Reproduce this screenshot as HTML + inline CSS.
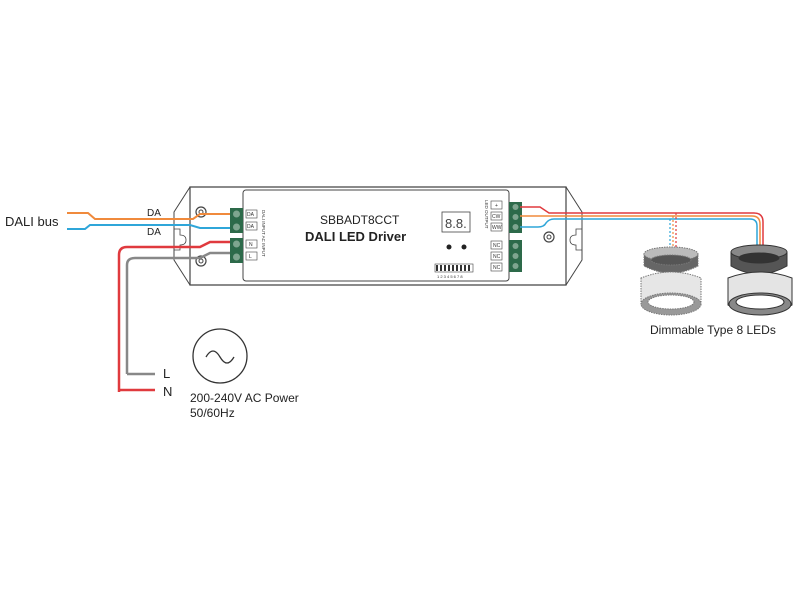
<!DOCTYPE html>
<html><head><meta charset="utf-8"><style>
html,body{margin:0;padding:0;background:#fff;}
svg{display:block;font-family:"Liberation Sans",Arial,sans-serif;}
</style></head><body>
<svg width="800" height="600" viewBox="0 0 800 600" xmlns="http://www.w3.org/2000/svg">
<rect width="800" height="600" fill="#fff"/>
<!-- driver housing -->
<path d="M190,187 L566,187 L566,285 L190,285 Z" fill="#fff" stroke="#444" stroke-width="1.2"/>
<path d="M190,187 L174,212 L174,260 L190,285" fill="none" stroke="#444" stroke-width="1"/>
<path d="M566,187 L582,212 L582,260 L566,285" fill="none" stroke="#444" stroke-width="1"/>
<path d="M174,229 h6 v6 q6,0 6,5 q0,5 -6,5 v5 h-6" fill="none" stroke="#444" stroke-width="0.8"/>
<path d="M582,229 h-6 v6 q-6,0 -6,5 q0,5 6,5 v5 h6" fill="none" stroke="#444" stroke-width="0.8"/>
<circle cx="201" cy="212" r="5" fill="#fff" stroke="#444" stroke-width="1.2"/><circle cx="201" cy="212" r="2" fill="none" stroke="#444"/>
<circle cx="201" cy="261" r="5" fill="#fff" stroke="#444" stroke-width="1.2"/><circle cx="201" cy="261" r="2" fill="none" stroke="#444"/>
<circle cx="549" cy="237" r="5" fill="#fff" stroke="#444" stroke-width="1.2"/><circle cx="549" cy="237" r="2" fill="none" stroke="#444"/>
<rect x="243" y="190" width="266" height="91" rx="3" fill="#fff" stroke="#444" stroke-width="1"/>
<!-- wires left -->
<path d="M67,213 H88 L95,219 H193 L200,214 H232" fill="none" stroke="#f08a3c" stroke-width="2"/>
<path d="M67,229 H85 L90,225 H190 L200,228 H232" fill="none" stroke="#2fa6d9" stroke-width="2"/>
<path d="M119,392 V255 Q119,247 127,247 H200 L210,242 H232" fill="none" stroke="#e03a3e" stroke-width="2.5"/>
<path d="M127,374 V265 Q127,258 135,258 H200 L210,253 H232" fill="none" stroke="#888" stroke-width="2.5"/>
<path d="M119,390 H155" stroke="#e03a3e" stroke-width="2.5"/>
<path d="M127,374 H155" stroke="#888" stroke-width="2.5"/>
<text x="5" y="226" font-size="13" fill="#222">DALI bus</text>
<text x="147" y="216" font-size="10" fill="#222">DA</text>
<text x="147" y="235" font-size="10" fill="#222">DA</text>
<text x="163" y="378" font-size="13" fill="#222">L</text>
<text x="163" y="396" font-size="13" fill="#222">N</text>
<circle cx="220" cy="356" r="27" fill="#fff" stroke="#333" stroke-width="1.3"/>
<path d="M206,357 q7,-12 14,0 t14,0" fill="none" stroke="#333" stroke-width="1.3"/>
<text x="190" y="402" font-size="12" fill="#222">200-240V AC Power</text>
<text x="190" y="417" font-size="12" fill="#222">50/60Hz</text>
<!-- left terminals -->
<rect x="230" y="208" width="13" height="25" fill="#2d6a4a"/>
<circle cx="236.5" cy="214" r="3.5" fill="#7fa58f"/><circle cx="236.5" cy="227" r="3.5" fill="#7fa58f"/>
<rect x="230" y="238" width="13" height="25" fill="#2d6a4a"/>
<circle cx="236.5" cy="244" r="3.5" fill="#7fa58f"/><circle cx="236.5" cy="257" r="3.5" fill="#7fa58f"/>
<g font-size="5" fill="#333"><rect x="246" y="210" width="11" height="8" fill="#fff" stroke="#444" stroke-width=".6"/><text x="247" y="216">DA</text>
<rect x="246" y="222" width="11" height="8" fill="#fff" stroke="#444" stroke-width=".6"/><text x="247" y="228">DA</text>
<rect x="246" y="240" width="11" height="8" fill="#fff" stroke="#444" stroke-width=".6"/><text x="249" y="246">N</text>
<rect x="246" y="252" width="11" height="8" fill="#fff" stroke="#444" stroke-width=".6"/><text x="249" y="258">L</text>
<text transform="translate(262,210) rotate(90)" font-size="4.5">DALI INPUT   AC INPUT</text></g>
<text x="320" y="224" font-size="12" fill="#222">SBBADT8CCT</text>
<text x="305" y="241" font-size="13" font-weight="bold" fill="#222">DALI LED Driver</text>
<!-- display -->
<rect x="442" y="212" width="28" height="20" fill="#fff" stroke="#444" stroke-width=".8"/>
<text x="445" y="228" font-size="13" fill="#444">8.8.</text>
<circle cx="449" cy="247" r="2.5" fill="#222"/><circle cx="464" cy="247" r="2.5" fill="#222"/>
<rect x="435" y="264" width="38" height="8" fill="#fff" stroke="#444" stroke-width=".6"/>
<path d="M437,265v6M441,265v6M445,265v6M449,265v6M453,265v6M457,265v6M461,265v6M465,265v6M469,265v6" stroke="#333" stroke-width="2"/>
<text x="437" y="278" font-size="4" fill="#333">1 2 3 4 5 6 7 8</text>
<!-- right terminals -->
<g font-size="5" fill="#333">
<rect x="491" y="201" width="11" height="8" fill="#fff" stroke="#444" stroke-width=".6"/><text x="495" y="207">+</text>
<rect x="491" y="212" width="11" height="8" fill="#fff" stroke="#444" stroke-width=".6"/><text x="492" y="218">CW</text>
<rect x="491" y="223" width="11" height="8" fill="#fff" stroke="#444" stroke-width=".6"/><text x="492" y="229">WW</text>
<rect x="491" y="241" width="11" height="8" fill="#fff" stroke="#444" stroke-width=".6"/><text x="493" y="247">NC</text>
<rect x="491" y="252" width="11" height="8" fill="#fff" stroke="#444" stroke-width=".6"/><text x="493" y="258">NC</text>
<rect x="491" y="263" width="11" height="8" fill="#fff" stroke="#444" stroke-width=".6"/><text x="493" y="269">NC</text>
<text transform="translate(485,200) rotate(90)" font-size="4.5">LED OUTPUT</text></g>
<rect x="509" y="202" width="13" height="31" fill="#2d6a4a"/>
<circle cx="515.5" cy="207" r="3" fill="#7fa58f"/><circle cx="515.5" cy="217" r="3" fill="#7fa58f"/><circle cx="515.5" cy="227" r="3" fill="#7fa58f"/>
<rect x="509" y="240" width="13" height="32" fill="#2d6a4a"/>
<circle cx="515.5" cy="246" r="3" fill="#7fa58f"/><circle cx="515.5" cy="256" r="3" fill="#7fa58f"/><circle cx="515.5" cy="266" r="3" fill="#7fa58f"/>
<!-- right wires -->
<path d="M520,207 H540 L549,213 H754 Q763,213 763,222 V248" fill="none" stroke="#e03a3e" stroke-width="1.5"/>
<path d="M520,216 H752 Q760,216 760,224 V248" fill="none" stroke="#f08a3c" stroke-width="1.5"/>
<path d="M520,227 H538 Q544,227 546,223 Q549,219 554,219 H750 Q757,219 757,226 V248" fill="none" stroke="#2fa6d9" stroke-width="1.5"/>
<path d="M676,213 V252" stroke="#e03a3e" stroke-width="1.2" stroke-dasharray="2,2"/>
<path d="M673,216 V252" stroke="#f08a3c" stroke-width="1.2" stroke-dasharray="2,2"/>
<path d="M670,219 V252" stroke="#2fa6d9" stroke-width="1.2" stroke-dasharray="2,2"/>
<!-- left lamp (ghosted) -->
<g stroke="#777" stroke-dasharray="1.5,1" stroke-width="1">
<path d="M644,254 V266 Q671,280 698,266 V254" fill="#666"/>
<ellipse cx="671" cy="254" rx="27" ry="7" fill="#bbb"/>
<ellipse cx="671" cy="260" rx="20" ry="5" fill="#555"/>
<path d="M641,278 V305 Q671,322 701,305 V278 Q671,266 641,278Z" fill="#e6e6e6"/>
<ellipse cx="671" cy="304" rx="30" ry="11" fill="#999"/>
<ellipse cx="671" cy="302" rx="23" ry="7" fill="#fff"/>
</g>
<!-- right lamp -->
<g stroke="#333" stroke-width="1">
<path d="M731,252 V266 Q759,282 787,266 V252" fill="#555"/>
<ellipse cx="759" cy="252" rx="28" ry="7" fill="#888"/>
<ellipse cx="759" cy="258" rx="20" ry="5" fill="#333"/>
<path d="M728,278 V305 Q760,322 792,305 V278 Q760,266 728,278Z" fill="#e4e4e4"/>
<ellipse cx="760" cy="304" rx="31" ry="11" fill="#888"/>
<ellipse cx="760" cy="302" rx="24" ry="7" fill="#fff"/>
</g>
<text x="650" y="334" font-size="12" fill="#222">Dimmable Type 8 LEDs</text>
</svg>
</body></html>
